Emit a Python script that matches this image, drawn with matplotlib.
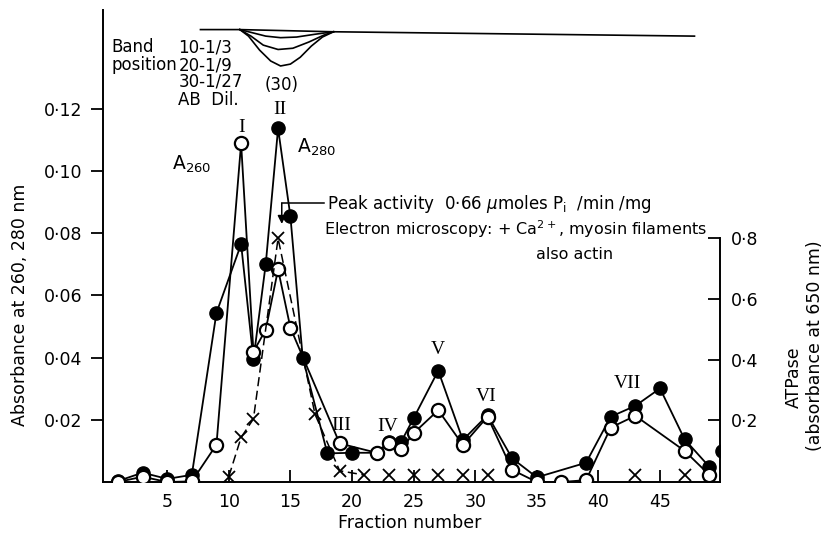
import matplotlib
matplotlib.use("Agg")
import matplotlib.pyplot as plt

plt.rcParams['font.family'] = ['DejaVu Sans']
plt.rcParams['mathtext.fontset'] = 'dejavusans'

# ---------------- data ----------------
# A280 (filled circles)
a280_frac = [1, 3, 5, 7, 9, 11, 12, 13, 14, 15, 16, 18, 20, 22, 23, 24, 25, 27, 29, 31, 33, 35, 39, 41, 43, 45, 47, 49]
a280_val = [0.0003, 0.0030, 0.0010, 0.0023, 0.0544, 0.0765, 0.0394, 0.0701, 0.1137, 0.0855, 0.0400, 0.0092,
            0.0094, 0.0094, 0.0130, 0.0130, 0.0205, 0.0358, 0.0135, 0.0215, 0.0076, 0.0015, 0.0062, 0.0210,
            0.0245, 0.0301, 0.0137, 0.0049]
a280_edge_frac = [50]
a280_edge_val = [0.0100]

# A260 (open circles)
a260_frac = [1, 3, 5, 7, 9, 11, 12, 13, 14, 15, 19, 22, 23, 24, 25, 27, 29, 31, 33, 35, 37, 39, 41, 43, 47, 49]
a260_val = [0.0000, 0.0017, 0.0000, 0.0002, 0.0120, 0.1089, 0.0419, 0.0490, 0.0684, 0.0496, 0.0124, 0.0094,
            0.0124, 0.0105, 0.0157, 0.0231, 0.0119, 0.0210, 0.0039, 0.0000, 0.0000, 0.0006, 0.0175, 0.0213,
            0.0100, 0.0023]

# ATPase (crosses, right axis)
atp_line_frac = [10, 11, 12, 14, 17, 19, 21]
atp_line_val = [0.015, 0.144, 0.205, 0.800, 0.220, 0.034, 0.020]
atp_base_frac = [23, 25, 27, 29, 31, 43, 47]
atp_base_val = [0.020, 0.020, 0.020, 0.020, 0.020, 0.020, 0.020]

# band-position profile (schematic at top)
band_top_frac = [7.7, 10.9, 18.5, 47.8]
band_top_val = [0.1455, 0.1455, 0.1448, 0.1434]
band1_frac = [10.9, 12.0, 13.0, 14.2, 15.5, 17.0, 18.5]
band1_val = [0.1455, 0.1444, 0.1434, 0.1429, 0.1431, 0.1440, 0.1448]
band2_frac = [10.9, 11.8, 12.8, 14.0, 15.2, 16.5, 17.7, 18.5]
band2_val = [0.1455, 0.1434, 0.1405, 0.1391, 0.1395, 0.1415, 0.1437, 0.1448]
band3_frac = [10.9, 11.6, 12.5, 13.4, 14.2, 15.0, 15.8, 16.7, 17.6, 18.5]
band3_val = [0.1455, 0.1434, 0.1389, 0.1354, 0.1338, 0.1344, 0.1366, 0.1402, 0.1431, 0.1448]

left_ticks = [0.02, 0.04, 0.06, 0.08, 0.10, 0.12]
left_ticklabels = ['0·02', '0·04', '0·06', '0·08', '0·10', '0·12']
right_ticks = [0.2, 0.4, 0.6, 0.8]
right_ticklabels = ['0·2', '0·4', '0·6', '0·8']
x_ticks = [5, 10, 15, 20, 25, 30, 35, 40, 45]

peak_labels = ['I', 'II', 'III', 'IV', 'V', 'VI', 'VII']
peak_label_frac = [11.0, 14.15, 19.1, 22.9, 27.0, 30.9, 42.4]
peak_label_val = [0.1140, 0.1198, 0.0182, 0.0179, 0.0426, 0.0275, 0.0317]

# ---------------- figure ----------------
W, H = 824, 539
fig = plt.figure(figsize=(W / 100, H / 100), dpi=100)
ax = fig.add_axes([103 / W, 57 / H, 617 / W, 472 / H])
ax.set_xlim(-0.21, 49.87)
ax.set_ylim(0, 0.1518)

lw = 1.3
ms = 9.5
# A280 filled
ax.plot(a280_frac, a280_val, '-', color='black', lw=lw, marker='o', ms=ms,
        mfc='black', mec='black', zorder=3)
ax.plot(a280_edge_frac, a280_edge_val, 'o', color='black', ms=ms, zorder=3, clip_on=True)
# A260 open
ax.plot(a260_frac, a260_val, '-', color='black', lw=lw, marker='o', ms=ms,
        mfc='white', mec='black', mew=1.6, zorder=4)

# band profile
for fx, fy in [(band_top_frac, band_top_val), (band1_frac, band1_val),
               (band2_frac, band2_val), (band3_frac, band3_val)]:
    ax.plot(fx, fy, '-', color='black', lw=1.2, clip_on=False)

for s in ['top', 'right']:
    ax.spines[s].set_visible(False)
for s in ['left', 'bottom']:
    ax.spines[s].set_linewidth(1.4)

ax.set_yticks(left_ticks)
ax.set_yticklabels(left_ticklabels, fontsize=12.5)
ax.tick_params(axis='y', direction='out', length=9, width=1.3, pad=6)
ax.set_xticks(x_ticks)
ax.set_xticklabels([str(t) for t in x_ticks], fontsize=12.5)
ax.tick_params(axis='x', direction='in', length=9, width=1.3, pad=8)

# right axis
ax2 = ax.twinx()
ax2.set_ylim(-0.003, 1.553)
ax2.set_xlim(ax.get_xlim())
for s in ['top', 'left', 'bottom']:
    ax2.spines[s].set_visible(False)
ax2.spines['right'].set_bounds(-0.003, 0.8)
ax2.spines['right'].set_linewidth(1.4)
ax2.set_yticks(right_ticks)
ax2.set_yticklabels(right_ticklabels, fontsize=12.5)
ax2.tick_params(axis='y', direction='in', length=9, width=1.3, pad=8)

ax2.plot(atp_line_frac, atp_line_val, color='black', lw=1.1, ls=(0, (6, 3)), zorder=2)
ax2.plot(atp_line_frac + atp_base_frac, atp_line_val + atp_base_val, 'x', color='black',
         ms=8, mew=1.3, zorder=2)

# texts
fs = 12
ax.text(0.5, 0.1398, 'Band', fontsize=fs, va='center', ha='left')
ax.text(0.5, 0.1341, 'position', fontsize=fs, va='center', ha='left')
ax.text(5.9, 0.1398, '10-1/3', fontsize=fs, va='center', ha='left')
ax.text(5.9, 0.1341, '20-1/9', fontsize=fs, va='center', ha='left')
ax.text(5.9, 0.1287, '30-1/27', fontsize=fs, va='center', ha='left')
ax.text(12.9, 0.1276, '(30)', fontsize=fs, va='center', ha='left')
ax.text(5.9, 0.1228, 'AB  Dil.', fontsize=fs, va='center', ha='left')

for lab, fx, fy in zip(peak_labels, peak_label_frac, peak_label_val):
    ax.text(fx, fy, lab, fontsize=14, family='Liberation Serif', ha='center', va='center', zorder=5)

ax.text(5.4, 0.1020, 'A$_{260}$', fontsize=13.5, ha='left', va='center')
ax.text(15.5, 0.1075, 'A$_{280}$', fontsize=13.5, ha='left', va='center')

ax.text(17.95, 0.0893, 'Peak activity  0·66 $\\mu$moles P$_{\\rm i}$  /min /mg', fontsize=12,
        ha='left', va='center')
ax.text(17.75, 0.0812, 'Electron microscopy: + Ca$^{2+}$, myosin filaments', fontsize=11.5,
        ha='left', va='center')
ax.text(38.1, 0.0732, 'also actin', fontsize=11.5, ha='center', va='center')

# arrow
ax.plot([17.7, 14.3], [0.0896, 0.0896], color='black', lw=1.1)
ax.annotate('', xy=(14.3, 0.0830), xytext=(14.3, 0.0897),
            arrowprops=dict(arrowstyle='-|>', color='black', lw=1.1, mutation_scale=12,
                            shrinkA=0, shrinkB=0))

# axis labels
fig.text(20 / W, 1 - 305 / H, 'Absorbance at 260, 280 nm', rotation=90, fontsize=12.5,
         ha='center', va='center')
fig.text(410 / W, 1 - 523 / H, 'Fraction number', fontsize=12.5, ha='center', va='center')
fig.text(794 / W, 1 - 377 / H, 'ATPase', rotation=90, fontsize=12.5, ha='center', va='center')
fig.text(815 / W, 1 - 346 / H, '(absorbance at 650 nm)', rotation=90, fontsize=12.5,
         ha='center', va='center')

fig.savefig('out.png', dpi=100)
